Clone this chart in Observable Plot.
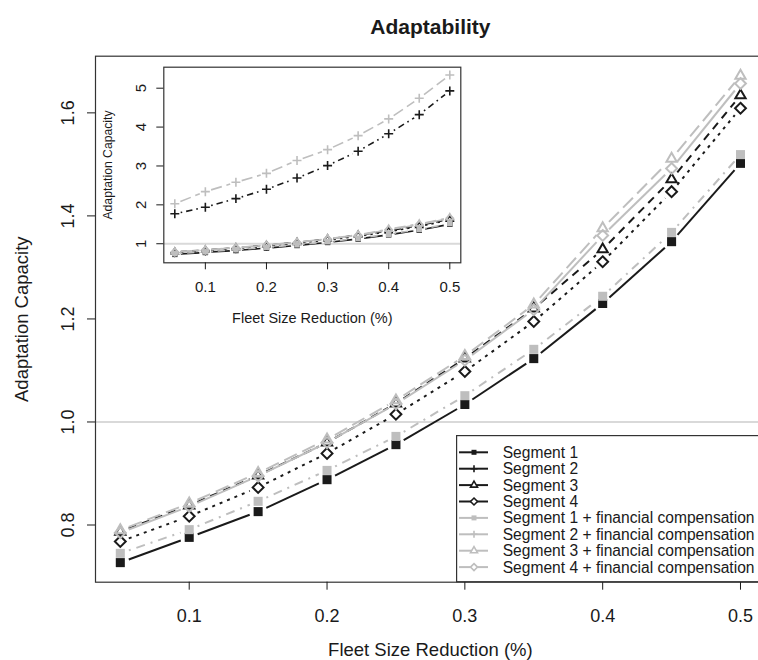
<!DOCTYPE html>
<html><head><meta charset="utf-8">
<script src="https://cdn.jsdelivr.net/npm/d3@7"></script>
<script src="https://cdn.jsdelivr.net/npm/@observablehq/plot@0.6"></script>
<style>
html,body{margin:0;padding:0;background:#fff;overflow:hidden;width:758px;height:660px}
#wrap{position:relative;width:758px;height:660px;overflow:hidden;background:#fff}
#wrap svg{position:absolute;max-width:none !important}
</style></head><body><div id="wrap"></div>
<script>
// ---------- data ----------
const fleetReduction = [0.05, 0.10, 0.15, 0.20, 0.25, 0.30, 0.35, 0.40, 0.45, 0.50];
const segment1     = [0.727, 0.776, 0.826, 0.888, 0.956, 1.034, 1.123, 1.230, 1.350, 1.502];
const segment2     = [1.77, 1.94, 2.16, 2.40, 2.69, 3.01, 3.38, 3.83, 4.32, 4.93];
const segment3     = [0.787, 0.838, 0.896, 0.960, 1.036, 1.123, 1.220, 1.335, 1.471, 1.634];
const segment4     = [0.768, 0.817, 0.873, 0.939, 1.015, 1.098, 1.195, 1.311, 1.447, 1.609];
const segment1Comp = [0.745, 0.791, 0.846, 0.906, 0.972, 1.051, 1.141, 1.244, 1.368, 1.519];
const segment2Comp = [2.03, 2.34, 2.58, 2.81, 3.14, 3.42, 3.78, 4.21, 4.74, 5.34];
const segment3Comp = [0.790, 0.842, 0.901, 0.966, 1.042, 1.128, 1.228, 1.376, 1.511, 1.672];
const segment4Comp = [0.785, 0.836, 0.895, 0.960, 1.035, 1.120, 1.218, 1.362, 1.492, 1.657];

const seriesNames = [
  "Segment 1", "Segment 2", "Segment 3", "Segment 4",
  "Segment 1 + financial compensation", "Segment 2 + financial compensation",
  "Segment 3 + financial compensation", "Segment 4 + financial compensation"
];
const xTicks = [0.1, 0.2, 0.3, 0.4, 0.5];
const xTickLabels = ["0.1", "0.2", "0.3", "0.4", "0.5"];
const yTicksMain = [0.8, 1.0, 1.2, 1.4, 1.6];
const yTickLabelsMain = ["0.8", "1.0", "1.2", "1.4", "1.6"];
const yTicksInset = [1, 2, 3, 4, 5];
const yTickLabelsInset = ["1", "2", "3", "4", "5"];
const referenceLevel = [1];
const chartTitle = "Adaptability";
const xTitle = "Fleet Size Reduction (%)";
const yTitle = "Adaptation Capacity";

// ---------- styles ----------
const seriesValues = [segment1, segment2, segment3, segment4, segment1Comp, segment2Comp, segment3Comp, segment4Comp];
const BLACK = "#1a1a1a", GRAY = "#bebebe";
const styles = [
  {color: BLACK, symbol: "square", filled: true, dash: null},
  {color: BLACK, symbol: "plus", dash: "2,5,8,5"},
  {color: BLACK, symbol: "triangle2", dash: "8,6"},
  {color: BLACK, symbol: "diamond2", dash: "3,5"},
  {color: GRAY, symbol: "square", filled: true, dash: "2,6,9,6"},
  {color: GRAY, symbol: "plus", dash: "14,6"},
  {color: GRAY, symbol: "triangle2", dash: "14,6"},
  {color: GRAY, symbol: "diamond2", dash: null}
];
const FONT = "'Liberation Sans', Arial, Helvetica, sans-serif";

function scaleDash(d, k) { return d ? d.split(",").map(v => +v * k).join(",") : undefined; }

function seriesMarks(vals, st, opt) {
  const pts = fleetReduction.map((x, i) => ({x, y: vals[i]}));
  const segs = fleetReduction.slice(1).map((x, i) => ({x1: fleetReduction[i], y1: vals[i], x2: x, y2: vals[i + 1]}));
  return [
    Plot.arrow(segs, {
      x1: "x1", y1: "y1", x2: "x2", y2: "y2",
      stroke: st.color, strokeWidth: opt.lw,
      strokeDasharray: scaleDash(st.dash, opt.dashK),
      insetStart: opt.gap, insetEnd: opt.gap, headLength: 0, bend: 0,
      strokeLinecap: "butt"
    }),
    Plot.dot(pts, {
      x: "x", y: "y", symbol: st.symbol, r: opt.r[st.symbol],
      fill: st.filled ? st.color : "none",
      stroke: st.filled ? "none" : st.color,
      strokeWidth: opt.sw
    })
  ];
}

const wrap = document.getElementById("wrap");

// ---------- main chart ----------
const yMainDomain = [0.689, 1.710];
const mainOpt = {lw: 2, sw: 2, gap: 9, dashK: 1, r: {square: 5.1, triangle2: 4.9, diamond2: 4.9, plus: 3}};
const mainSeries = [];
seriesValues.forEach((vals, i) => {
  if (vals.every(v => v <= yMainDomain[1])) mainSeries.push(...seriesMarks(vals, styles[i], mainOpt));
});

const main = Plot.plot({
  width: 770, height: 660,
  marginLeft: 95, marginRight: 5.2, marginTop: 55.7, marginBottom: 78.3,
  x: {domain: [0.032, 0.518]},
  y: {domain: yMainDomain},
  style: {background: "transparent", fontFamily: FONT, color: "#1a1a1a", maxWidth: "none"},
  marks: [
    Plot.ruleY(referenceLevel, {stroke: "#d9d9d9", strokeWidth: 2}),
    ...mainSeries,
    Plot.frame({stroke: "#333", strokeWidth: 1.2}),
    Plot.axisX({ticks: xTicks, tickFormat: d => xTickLabels[xTicks.indexOf(d)], tickSize: 8, tickPadding: 19, fontSize: 18, label: null}),
    Plot.axisY({ticks: yTicksMain, tickFormat: d => yTickLabelsMain[yTicksMain.indexOf(d)], tickSize: 8, tickRotate: -90, tickPadding: 13.5, fontSize: 18, label: null}),
    Plot.text([chartTitle], {text: d => d, frameAnchor: "top", dy: -29, lineAnchor: "middle", textAnchor: "middle", fontWeight: "bold", fontSize: 21}),
    Plot.text([xTitle], {text: d => d, frameAnchor: "bottom", dy: 68, lineAnchor: "middle", textAnchor: "middle", fontSize: 18.5}),
    Plot.text([yTitle], {text: d => d, frameAnchor: "left", dx: -73, rotate: -90, lineAnchor: "middle", textAnchor: "middle", fontSize: 18.5})
  ]
});
main.style.left = "0px"; main.style.top = "0px";
main.setAttribute("width", 770); main.setAttribute("height", 660);
main.style.width = "770px"; main.style.height = "660px";
wrap.appendChild(main);

// ---------- inset ----------
const insetOpt = {lw: 1.6, sw: 1.6, gap: 6, dashK: 0.8, r: {square: 3.1, triangle2: 3.3, diamond2: 3.3, plus: 3}};
const insetSeries = [];
seriesValues.forEach((vals, i) => insetSeries.push(...seriesMarks(vals, styles[i], insetOpt)));

const inset = Plot.plot({
  width: 370, height: 270,
  marginLeft: 63.3, marginRight: 9.7, marginTop: 6.7, marginBottom: 67.7,
  x: {domain: [0.032, 0.518]},
  y: {domain: [0.51, 5.54]},
  style: {background: "transparent", fontFamily: FONT, color: "#1a1a1a", maxWidth: "none", overflow: "visible"},
  marks: [
    Plot.ruleY(referenceLevel, {stroke: "#d9d9d9", strokeWidth: 2}),
    ...insetSeries,
    Plot.frame({stroke: "#333", strokeWidth: 1.2}),
    Plot.axisX({ticks: xTicks, tickFormat: d => xTickLabels[xTicks.indexOf(d)], tickSize: 7, tickPadding: 12, fontSize: 15, label: null}),
    Plot.axisY({ticks: yTicksInset, tickFormat: d => yTickLabelsInset[yTicksInset.indexOf(d)], tickSize: 7, tickRotate: -90, tickPadding: 10.9, fontSize: 15, label: null}),
    Plot.text([xTitle], {text: d => d, frameAnchor: "bottom", dy: 55.7, lineAnchor: "middle", textAnchor: "middle", fontSize: 14.5}),
    Plot.text([yTitle], {text: d => d, frameAnchor: "left", dx: -55.3, rotate: -90, lineAnchor: "middle", textAnchor: "middle", fontSize: 12.2})
  ]
});
inset.style.left = "100px"; inset.style.top = "60px";
wrap.appendChild(inset);

// ---------- legend ----------
const legend = d3.select(wrap).append("svg")
  .attr("width", 320).attr("height", 148)
  .style("left", "456px").style("top", "435px")
  .style("font-family", FONT);
legend.append("rect").attr("x", 0.6).attr("y", 0.6).attr("width", 340).attr("height", 146.1)
  .attr("fill", "#fff").attr("stroke", "#333").attr("stroke-width", 1.2);
const legendSymbolSize = {square: 25, triangle2: 35, diamond2: 31, plus: 18};
const d3Symbols = {square: d3.symbolSquare, triangle2: d3.symbolTriangle2, diamond2: d3.symbolDiamond2, plus: d3.symbolPlus};
seriesNames.forEach((name, i) => {
  const st = styles[i];
  const y = 17.3 + i * 16.4;
  const g = legend.append("g");
  g.append("line").attr("x1", 3).attr("x2", 32).attr("y1", y).attr("y2", y)
    .attr("stroke", st.color).attr("stroke-width", 2);
  g.append("path").attr("transform", `translate(18,${y})`)
    .attr("d", d3.symbol(d3Symbols[st.symbol], legendSymbolSize[st.symbol])())
    .attr("fill", st.filled ? st.color : (st.symbol === "plus" ? "none" : "#fff"))
    .attr("stroke", st.filled ? "none" : st.color).attr("stroke-width", 1.6);
  g.append("text").attr("x", 46.7).attr("y", y).attr("dy", "0.35em")
    .attr("font-size", 15.6).attr("fill", "#1a1a1a").text(name);
});
</script>
</body></html>
